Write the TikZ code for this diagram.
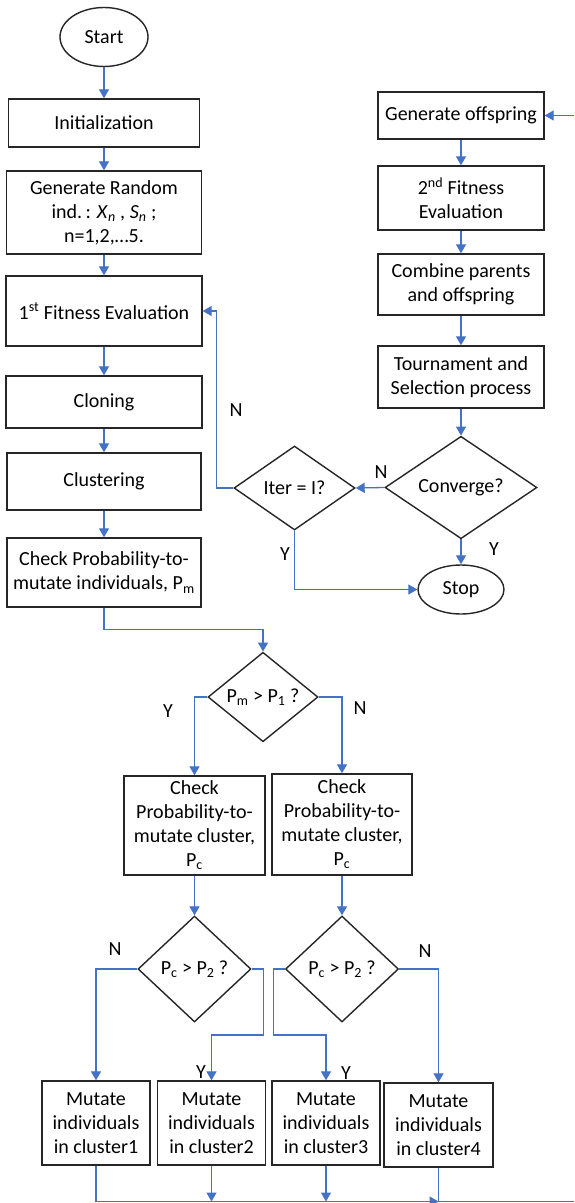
\documentclass[tikz,border=0pt]{standalone}
\usepackage{fontspec}
\setmainfont{Carlito}
\usepackage{tikz}
\usetikzlibrary{arrows.meta,shapes.geometric}
\definecolor{flowblue}{HTML}{4472C4}
\definecolor{boxline}{HTML}{262626}
\tikzset{
  stepbox/.style={
    draw=boxline,
    line width=1.4pt,
    fill=white,
    align=center,
    font=\fontsize{20}{24}\selectfont,
    inner sep=2pt
  },
  termbox/.style={
    stepbox,
    ellipse
  },
  decbox/.style={
    stepbox,
    diamond,
    inner sep=0pt
  },
  branchlbl/.style={
    font=\fontsize{20}{24}\selectfont,
    inner sep=0pt
  },
  flowline/.style={draw=flowblue, line width=1.3pt},
  flowarrow/.style={flowline, -{Triangle[length=9pt,width=10pt]}}
}

\begin{document}
\begin{tikzpicture}[x=1pt,y=-1pt]
  \useasboundingbox[fill=white] (0,0) rectangle (574,1203);

  % main column
  \node[termbox,minimum width=88pt,minimum height=59pt] (start) at (104,37) {Start};
  \node[stepbox,minimum width=191pt,minimum height=48pt] (init) at (104,123) {Initialization};
  \node[stepbox,minimum width=195pt,minimum height=83pt] (genrand) at (104,212.5) {Generate Random\\ind.\,: \textit{X}\textsubscript{\textit{n}} , \textit{S}\textsubscript{\textit{n}} ;\\n=1,2,…5.};
  \node[stepbox,minimum width=196pt,minimum height=70pt] (fit1) at (104,311) {1\textsuperscript{st} Fitness Evaluation};
  \node[stepbox,minimum width=196pt,minimum height=52pt] (cloning) at (104,402) {Cloning};
  \node[stepbox,minimum width=194pt,minimum height=57pt] (clust) at (104,481.5) {Clustering};
  \node[stepbox,minimum width=194pt,minimum height=69pt] (chkind) at (104,572.5) {Check Probability-to-\\mutate individuals, P\textsubscript{m}};

  % offspring column
  \node[stepbox,minimum width=166pt,minimum height=47pt] (genoff) at (461,115.5) {Generate offspring};
  \node[stepbox,minimum width=166pt,minimum height=64pt] (fit2) at (461,198) {2\textsuperscript{nd} Fitness\\Evaluation};
  \node[stepbox,minimum width=166pt,minimum height=61pt] (combine) at (461,284.5) {Combine parents\\and offspring};
  \node[stepbox,minimum width=166pt,minimum height=62pt] (tourn) at (461,377) {Tournament and\\Selection process};
  \node[decbox,minimum width=152pt,minimum height=101pt] (conv) at (461,487.5) {Converge?};
  \node[decbox,minimum width=121pt,minimum height=84pt] (iter) at (294.5,488) {Iter = I?};
  \node[termbox,minimum width=86pt,minimum height=49pt] (stop) at (461,589.5) {Stop};

  % mutation part
  \node[decbox,minimum width=110pt,minimum height=88pt] (pm) at (263,697) {P\textsubscript{m} > P\textsubscript{1} ?};
  \node[stepbox,minimum width=141pt,minimum height=99pt] (chkL) at (194.5,825.5) {Check\\Probability-to-\\mutate cluster,\\P\textsubscript{c}};
  \node[stepbox,minimum width=140pt,minimum height=101pt] (chkR) at (342,824.5) {Check\\Probability-to-\\mutate cluster,\\P\textsubscript{c}};
  \node[decbox,minimum width=113pt,minimum height=106pt] (pcL) at (194.5,969) {P\textsubscript{c} > P\textsubscript{2} ?};
  \node[decbox,minimum width=113pt,minimum height=106pt] (pcR) at (342,969) {P\textsubscript{c} > P\textsubscript{2} ?};
  \node[stepbox,minimum width=108pt,minimum height=84pt] (mut1) at (96,1123) {Mutate\\individuals\\in cluster1};
  \node[stepbox,minimum width=108pt,minimum height=84pt] (mut2) at (211.5,1123) {Mutate\\individuals\\in cluster2};
  \node[stepbox,minimum width=108pt,minimum height=84pt] (mut3) at (326,1123) {Mutate\\individuals\\in cluster3};
  \node[stepbox,minimum width=109pt,minimum height=84pt] (mut4) at (438.5,1125) {Mutate\\individuals\\in cluster4};

  \coordinate (loopSE) at (574,1201.5);
  \coordinate (loopNE) at (574,115.5);

  % connectors
  \draw[flowarrow] (start) -- (init);
  \draw[flowarrow] (init) -- (genrand);
  \draw[flowarrow] (genrand) -- (fit1);
  \draw[flowarrow] (fit1) -- (cloning);
  \draw[flowarrow] (cloning) -- (clust);
  \draw[flowarrow] (clust) -- (chkind);
  \draw[flowarrow] (chkind.south) -- ++(0,22) -| (pm.north);

  \draw[flowarrow] (loopNE) -- (genoff.east);
  \draw[flowarrow] (genoff) -- (fit2);
  \draw[flowarrow] (fit2) -- (combine);
  \draw[flowarrow] (combine) -- (tourn);
  \draw[flowarrow] (tourn) -- (conv);
  \draw[flowarrow] (conv) -- (stop);
  \draw[flowarrow] (conv.west) -- (iter.east);
  \draw[flowarrow] (iter.west) -- ++(-16.5,0) |- (fit1.east);
  \draw[flowarrow] (iter.south) |- (stop.west);

  \draw[flowarrow] (pm.west) -| (chkL.north);
  \draw[flowarrow] (pm.east) -| (chkR.north);
  \draw[flowarrow] (chkL) -- (pcL);
  \draw[flowarrow] (chkR) -- (pcR);
  \draw[flowarrow] (pcL.west) -| (mut1.north);
  \draw[flowarrow] (pcL.east) -| ++(12,66) -| (mut2.north);
  \draw[flowarrow] (pcR.west) -| ++(-11,66) -| (mut3.north);
  \draw[flowarrow] (pcR.east) -| (mut4.north);

  \draw[flowarrow] (mut1.south) |- (mut4.south |- loopSE);
  \draw[flowline] (mut4.south) -- (mut4.south |- loopSE) -- (loopSE);
  \draw[flowarrow] (mut2.south) -- (mut2.south |- loopSE);
  \draw[flowarrow] (mut3.south) -- (mut3.south |- loopSE);

  % branch labels
  \node[branchlbl] (lblItN) at (236,410) {N};
  \node[branchlbl] (lblCvN) at (381,472) {N};
  \node[branchlbl] (lblCvY) at (494,549) {Y};
  \node[branchlbl] (lblItY) at (285,554) {Y};
  \node[branchlbl] (lblPmY) at (168,711) {Y};
  \node[branchlbl] (lblPmN) at (360,708) {N};
  \node[branchlbl] (lblPcLN) at (115,949) {N};
  \node[branchlbl] (lblPcLY) at (201,1072) {Y};
  \node[branchlbl] (lblPcRY) at (346,1073) {Y};
  \node[branchlbl] (lblPcRN) at (425,951) {N};
\end{tikzpicture}
\end{document}
